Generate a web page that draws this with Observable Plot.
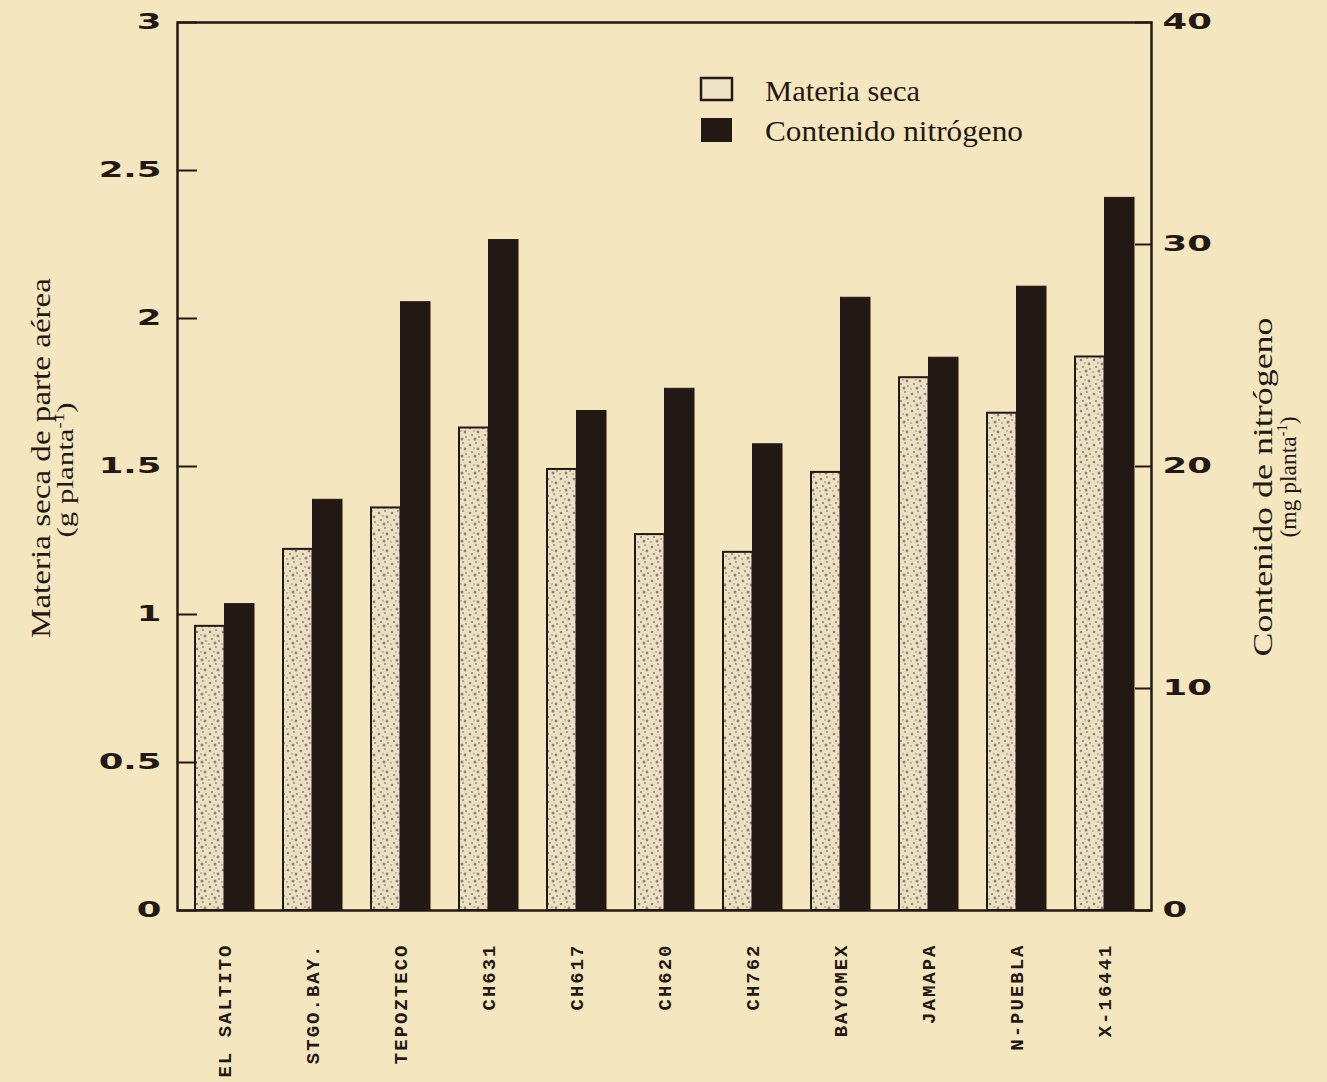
<!DOCTYPE html>
<html><head><meta charset="utf-8">
<script src="https://cdn.jsdelivr.net/npm/d3@7"></script>
<script src="https://cdn.jsdelivr.net/npm/@observablehq/plot@0.6"></script>
<style>
html,body{margin:0;padding:0;background:#f4e6bf;}
#chart{position:relative;width:1327px;height:1082px;overflow:hidden;}
</style></head><body><div id="chart"></div>
<script>
// ---- data ----
const categories = ["EL SALTITO","STGO.BAY.","TEPOZTECO","CH631","CH617","CH620","CH762","BAYOMEX","JAMAPA","N-PUEBLA","X-16441"];
const materiaSeca = [0.96,1.22,1.36,1.63,1.49,1.27,1.21,1.48,1.80,1.68,1.87];
const nitrogeno   = [13.8,18.5,27.4,30.2,22.5,23.5,21.0,27.6,24.9,28.1,32.1];
const leftTicks  = [0,0.5,1,1.5,2,2.5,3];
const rightTicks = [0,10,20,30,40];
const leftMax = 3, rightMax = 40;
const seriesNames = ["Materia seca","Contenido nitrógeno"];
const leftTitle = ["Materia seca de parte aérea","(g planta","-1",")"];
const rightTitle = ["Contenido de nitrógeno","(mg planta","-1",")"];

const data = categories.map((c,i)=>({cat:c, ms:materiaSeca[i], n:nitrogeno[i]}));
const toLeft = v => v*leftMax/rightMax;
const ink = "#231813";

const plot = Plot.plot({
  width:1327, height:1082,
  marginLeft:177, marginRight:176, marginTop:22, marginBottom:172,
  style:{background:"transparent", color:ink},
  x:{domain:categories, paddingInner:0.333, paddingOuter:0.17, label:null},
  y:{domain:[0,leftMax], label:null},
  marks:[
    Plot.barY(data,{x:"cat", y:"ms", insetRight:29.5, fill:"url(#speckle)", stroke:ink, strokeWidth:2}),
    Plot.barY(data,{x:"cat", y:d=>toLeft(d.n), insetLeft:29.5, fill:ink, stroke:ink, strokeWidth:1}),
    Plot.frame({stroke:ink, strokeWidth:2.5}),
    Plot.axisY(leftTicks,{anchor:"left", tickSize:-20, tickPadding:36, strokeWidth:2,
      tickFormat:d=>String(d), fontFamily:"DejaVu Sans", fontWeight:"bold", fontSize:21.5, fill:ink}),
    Plot.axisY(rightTicks.map(toLeft),{anchor:"right", tickSize:-17, tickPadding:28, strokeWidth:2,
      tickFormat:d=>String(Math.round(d*rightMax/leftMax)), fontFamily:"DejaVu Sans", fontWeight:"bold", fontSize:21.5, fill:ink}),
    Plot.axisX({tickSize:0, tickRotate:-90, tickPadding:33, fontFamily:"Liberation Mono", fontWeight:"bold", fontSize:19, fill:ink})
  ]
});
document.getElementById("chart").appendChild(plot);

const svg = d3.select(plot);
// speckle pattern for the light bars
const defs = svg.insert("defs",":first-child");
const pat = defs.append("pattern").attr("id","speckle").attr("patternUnits","userSpaceOnUse")
  .attr("width",13).attr("height",17);
pat.append("rect").attr("width",13).attr("height",17).attr("fill","#ece0c2");
[[2,3,1.3],[8,1,0.9],[10,7,1.4],[4,10,1.1],[7,14,1.5],[1,15,0.8],[11,12,0.9],[6,6,0.8]].forEach(([cx,cy,r])=>
  pat.append("circle").attr("cx",cx).attr("cy",cy).attr("r",r).attr("fill","#6e6257").attr("opacity",0.75));

// widen axis numerals
svg.selectAll('g[aria-label="y-axis tick label"] text').each(function(){
  const t = this.getAttribute("transform") || "";
  this.setAttribute("transform", t + " scale(1.65,1)");
});
svg.selectAll('g[aria-label="x-axis tick label"] text').style("letter-spacing","2px");

// axis titles
function title(x, y, lines, size1, len1, x2, y2, size2, len2){
  svg.append("text").attr("transform",`translate(${x},${y}) rotate(-90)`).attr("text-anchor","middle")
    .attr("font-family","Liberation Serif").attr("font-size",size1).attr("fill",ink)
    .attr("textLength",len1).attr("lengthAdjust","spacingAndGlyphs").text(lines[0]);
  const t = svg.append("text").attr("transform",`translate(${x2},${y2}) rotate(-90)`).attr("text-anchor","middle")
    .attr("font-family","Liberation Serif").attr("font-size",size2).attr("fill",ink)
    .attr("textLength",len2).attr("lengthAdjust","spacingAndGlyphs");
  t.append("tspan").text(lines[1]);
  t.append("tspan").attr("dy",-9).attr("font-size",14).text(lines[2]);
  t.append("tspan").attr("dy",9).text(lines[3]);
}
title(50,458,leftTitle,27,360,73,470,23,135);
title(1272,487,rightTitle,27,339,1296,477,23,121);

// legend
const lg = svg.append("g").attr("text-anchor","start");
lg.append("rect").attr("x",701).attr("y",78).attr("width",31).attr("height",22).attr("fill","#efe4c8").attr("stroke",ink).attr("stroke-width",2.5);
lg.append("rect").attr("x",701).attr("y",118).attr("width",31).attr("height",24).attr("fill",ink);
lg.append("text").attr("x",765).attr("y",101).attr("text-anchor","start").attr("font-family","Liberation Serif").attr("font-size",29).attr("fill",ink)
  .attr("textLength",155).attr("lengthAdjust","spacingAndGlyphs").text(seriesNames[0]);
lg.append("text").attr("x",765).attr("y",141).attr("text-anchor","start").attr("font-family","Liberation Serif").attr("font-size",29).attr("fill",ink)
  .attr("textLength",258).attr("lengthAdjust","spacingAndGlyphs").text(seriesNames[1]);
</script></body></html>
